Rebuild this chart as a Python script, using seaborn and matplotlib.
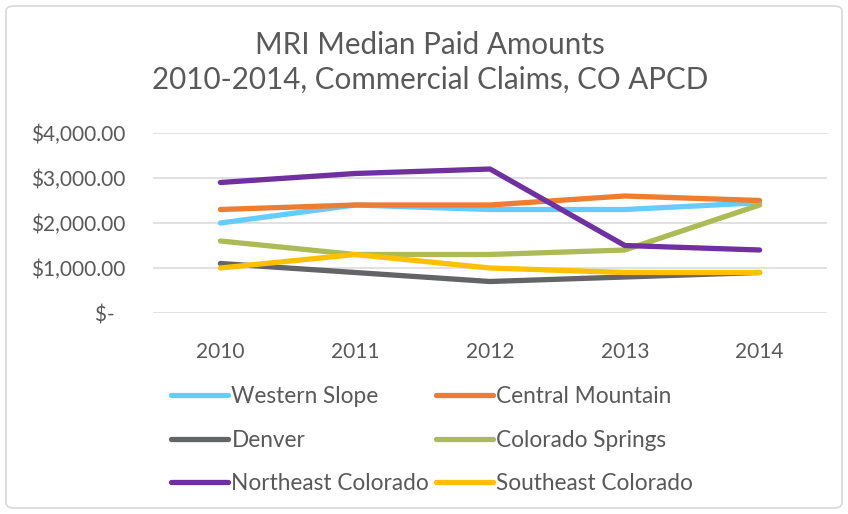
import numpy as np
import pandas as pd
import matplotlib
matplotlib.use("Agg")
import matplotlib.pyplot as plt
from matplotlib.patches import FancyBboxPatch
import seaborn as sns

years = [2010, 2011, 2012, 2013, 2014]
western_slope = [2000, 2400, 2300, 2300, 2450]
central_mountain = [2300, 2400, 2400, 2600, 2500]
denver = [1100, 900, 700, 800, 900]
colorado_springs = [1600, 1300, 1300, 1400, 2400]
northeast_colorado = [2900, 3100, 3200, 1500, 1400]
southeast_colorado = [1000, 1300, 1000, 900, 900]

series_names = ["Western Slope", "Central Mountain", "Denver",
                "Colorado Springs", "Northeast Colorado", "Southeast Colorado"]
series_values = [western_slope, central_mountain, denver,
                 colorado_springs, northeast_colorado, southeast_colorado]
colors = ["#66CCFF", "#ED7D31", "#636466", "#ADBB57", "#7030A0", "#FFC000"]

ytick_values = [0, 1000, 2000, 3000, 4000]
ytick_labels = ["$-  ", "$1,000.00", "$2,000.00", "$3,000.00", "$4,000.00"]

title_text = "MRI Median Paid Amounts\n2010-2014, Commercial Claims, CO APCD"

rows = []
for name, vals in zip(series_names, series_values):
    for y, v in zip(years, vals):
        rows.append({"Year": y, "Amount": v, "Region": name})
df = pd.DataFrame(rows)

sns.set_theme(style="white")
plt.rcParams["font.family"] = ["Lato", "DejaVu Sans"]
text_color = "#595959"

fig = plt.figure(figsize=(8.48, 5.14), dpi=100)
ax = fig.add_axes([153 / 848, 1 - 313 / 514, (827 - 153) / 848, (313 - 133) / 514])

sns.lineplot(data=df, x="Year", y="Amount", hue="Region", hue_order=series_names,
             palette=colors, linewidth=3.8, ax=ax, legend=False,
             solid_capstyle="round", zorder=3)

ax.set_xlim(2009.5, 2014.5)
ax.set_ylim(0, 4000)
ax.set_xticks(years)
ax.set_xticklabels([str(y) for y in years])
ax.set_yticks(ytick_values)
ax.set_yticklabels(ytick_labels)
ax.set_xlabel("")
ax.set_ylabel("")
ax.grid(axis="y", color="#D9D9D9", linewidth=1.1, zorder=0)
ax.grid(axis="x", visible=False)
for s in ax.spines.values():
    s.set_visible(False)
ax.tick_params(axis="y", length=0, pad=20, labelsize=15, labelcolor=text_color)
ax.tick_params(axis="x", length=0, pad=21, labelsize=15, labelcolor=text_color)

fig.text(430 / 848, 1 - 62.5 / 514, title_text, ha="center", va="center",
         fontsize=21.3, color=text_color, linespacing=1.28)

# legend, ordered row-wise like the reference
order = ["Western Slope", "Denver", "Northeast Colorado",
         "Central Mountain", "Colorado Springs", "Southeast Colorado"]
handles = [plt.Line2D([], [], color=colors[series_names.index(n)], linewidth=3.8,
                      solid_capstyle="round") for n in order]
leg = fig.legend(handles, order, loc="upper left",
                 bbox_to_anchor=(171 / 848, 1 - 386 / 514), ncol=2, frameon=False,
                 fontsize=16.3, handlelength=2.5, handletextpad=0.17,
                 columnspacing=0.3, labelspacing=1.0, borderaxespad=0, borderpad=0)
for t in leg.get_texts():
    t.set_color(text_color)

border = FancyBboxPatch((6 / 848, 6 / 514), 836 / 848, 502 / 514,
                        boxstyle="round,pad=0,rounding_size=0.01",
                        transform=fig.transFigure, fill=False,
                        edgecolor="#D9D9D9", linewidth=1.2)
fig.patches.append(border)

fig.savefig("out.png", dpi=100, facecolor="white")
